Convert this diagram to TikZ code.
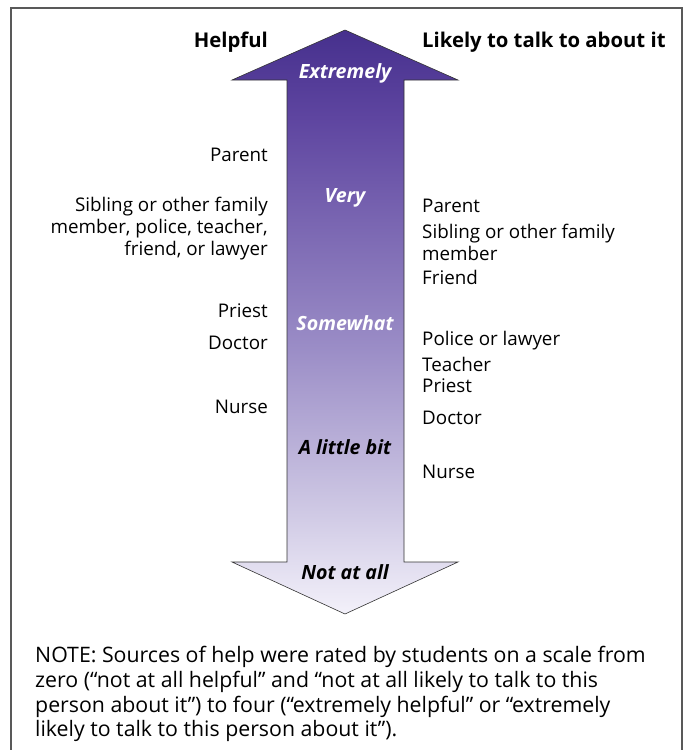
\documentclass[tikz,border=0pt]{standalone}
\usepackage{fontspec}
\setmainfont{Open Sans}
\definecolor{shadeA}{HTML}{F3F1FA}
\definecolor{shadeB}{HTML}{D0CAE5}
\definecolor{shadeC}{HTML}{9A8CC6}
\definecolor{shadeD}{HTML}{5E45A0}
\definecolor{shadeE}{HTML}{46308D}
\pgfdeclareverticalshading{scaleshade}{100bp}{color(0bp)=(shadeA); color(25bp)=(shadeA);
  color(33.5bp)=(shadeB); color(48bp)=(shadeC); color(67.5bp)=(shadeD);
  color(75bp)=(shadeE); color(100bp)=(shadeE)}
\begin{document}
\begin{tikzpicture}[x=1pt,y=-1pt,
  lbl/.style={font=\fontsize{18.8}{22}\selectfont, inner sep=0pt},
  lft/.style={lbl, anchor=east, align=right},
  rgt/.style={lbl, anchor=west, align=left},
  head/.style={font=\fontsize{20.3}{22}\selectfont\bfseries, inner sep=0pt},
  level/.style={font=\fontsize{19.6}{22}\selectfont\bfseries\itshape, inner sep=0pt}]
\useasboundingbox (0,0) rectangle (688,750);
% frame, open at the bottom
\draw[gray!70!black, line width=1.2pt] (11,760)--(11,8)--(682,8)--(682,760);
% the double arrow
\shade[shading=scaleshade, draw=black!80, line width=0.6pt]
  (345,30)--(458,80)--(404,80)--(404,562)--(458,562)--(345,614)
  --(232,562)--(287,562)--(287,80)--(232,80)--cycle;
% headings
\node[head, anchor=east] (hhelp) at (268,42) {Helpful};
\node[head, anchor=west] (htalk) at (422,42) {Likely to talk to about it};
% levels
\node[level, white] (lvl4) at (345,73) {Extremely};
\node[level, white] (lvl3) at (345,198) {Very};
\node[level, white] (lvl2) at (345,323) {Somewhat};
\node[level] (lvl1) at (345,447) {A little bit};
\node[level] (lvl0) at (345,572) {Not at all};
% helpful
\node[lft] (hparent) at (268,155) {Parent};
\node[lft] (hsibling) at (268,229) {Sibling or other family\\member, police, teacher,\\friend, or lawyer};
\node[lft] (hpriest) at (268,311) {Priest};
\node[lft] (hdoctor) at (268,343) {Doctor};
\node[lft] (hnurse) at (268,407) {Nurse};
% likely to talk
\node[rgt] (tparent) at (422,206) {Parent};
\node[rgt] (tsibling) at (422,242) {Sibling or other family\\member};
\node[rgt] (tfriend) at (422,277) {Friend};
\node[rgt] (tpolice) at (422,341) {Police or lawyer};
\node[rgt] (tteacher) at (422,364) {Teacher};
\node[rgt] (tpriest) at (422,386) {Priest};
\node[rgt] (tdoctor) at (422,418) {Doctor};
\node[rgt] (tnurse) at (422,472) {Nurse};
% note
\node[anchor=west, align=left, inner sep=0pt, font=\fontsize{21.3}{24.8}\selectfont] (note) at (35,694)
  {NOTE: Sources of help were rated by students on a scale from\\
   zero (“not at all helpful” and “not at all likely to talk to this\\
   person about it”) to four (“extremely helpful” or “extremely\\
   likely to talk to this person about it”).};
\end{tikzpicture}
\end{document}
